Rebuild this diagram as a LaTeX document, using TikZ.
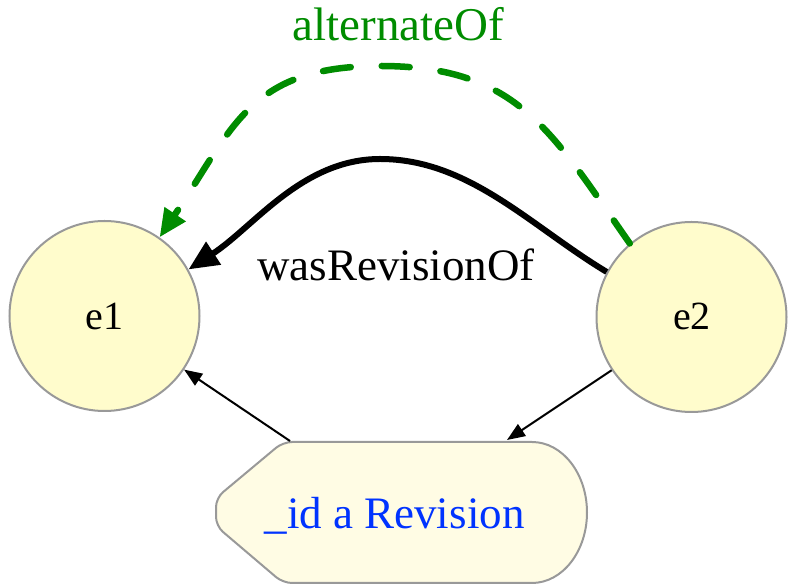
\documentclass[tikz,border=0pt]{standalone}
\usepackage{fontspec}
\setmainfont{Liberation Serif}
\usetikzlibrary{arrows.meta}
\definecolor{entfill}{RGB}{255,252,204}
\definecolor{revfill}{RGB}{255,252,228}
\definecolor{bordergray}{RGB}{153,153,153}
\definecolor{altgreen}{RGB}{0,140,0}
\definecolor{revblue}{RGB}{0,51,255}
\tikzset{
  entity/.style={circle, draw=bordergray, line width=2pt, fill=entfill, minimum size=190pt, inner sep=0pt},
  entlabel/.style={anchor=base, inner sep=0pt, font=\fontsize{40}{42}\selectfont},
  revshape/.style={draw=bordergray, line width=2pt, fill=revfill},
  revedge/.style={line width=6pt, -{Triangle[length=30pt,width=26pt]}},
  altedge/.style={line width=6.5pt, altgreen, dash pattern=on 28pt off 31pt, line cap=round, -{Triangle[length=28pt,width=24pt,line cap=butt]}},
  thinedge/.style={line width=2pt, -{Triangle[length=18pt,width=14pt]}},
}
\begin{document}
\begin{tikzpicture}[x=1pt,y=1pt]
\useasboundingbox (0,0) rectangle (788,586);
% bottom shape
\draw[revshape] (532,144) arc[start angle=90,end angle=-90,x radius=55,y radius=70.5]
  [rounded corners=9pt] -- (283,3) -- (216,60) -- (216,88) -- (283,144) -- (532,144);
\node[anchor=base, inner sep=0pt, text=revblue, font=\fontsize{45}{48}\selectfont] (rev) at (394.5,57) {\_id a Revision};
\coordinate (revA) at (290,145);
\coordinate (revB) at (507,146);
% entities
\node[entity] (e1) at (104.5,270) {};
\node[entlabel] (e1t) at (104.5,256) {e1};
\node[entity] (e2) at (691.5,269) {};
\node[entlabel] (e2t) at (692,256) {e2};
% peaks
\coordinate (wpk) at (380,427);
\coordinate (apk) at (380,520);
% edges
\draw[revedge] (e2.152) to[out=149,in=0,looseness=0.9] (wpk) to[out=180,in=33,looseness=0.9] (e1.29);
\draw[altedge] (e2.130) to[out=125,in=0,looseness=1.15] (apk) to[out=180,in=56,looseness=1.2] (e1.55);
\draw[thinedge] (revA) -- (e1);
\draw[thinedge] (e2) -- (revB);
% labels
\node[anchor=base, inner sep=0pt, font=\fontsize{45}{48}\selectfont] (wlab) at (396,305) {wasRevisionOf};
\node[anchor=base, inner sep=0pt, text=altgreen, font=\fontsize{47}{50}\selectfont] (alab) at (398.5,545) {alternateOf};
\end{tikzpicture}
\end{document}
